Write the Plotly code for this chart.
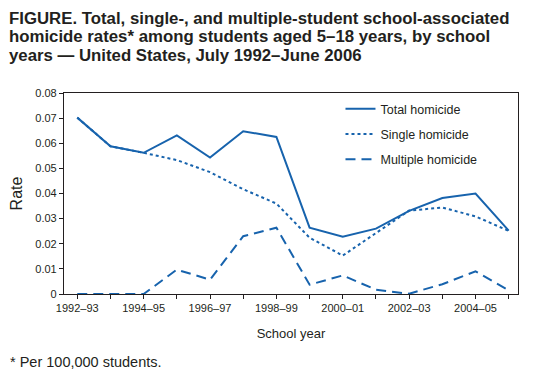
import plotly.graph_objects as go

school_years = ["1992–93", "1993–94", "1994–95", "1995–96", "1996–97", "1997–98", "1998–99",
                "1999–00", "2000–01", "2001–02", "2002–03", "2003–04", "2004–05", "2005–06"]
tick_labels = ["1992–93", "", "1994–95", "", "1996–97", "", "1998–99",
               "", "2000–01", "", "2002–03", "", "2004–05", ""]
total_homicide = [0.0702, 0.0588, 0.0562, 0.0631, 0.0543, 0.0648, 0.0625,
                  0.0264, 0.0228, 0.0260, 0.0331, 0.0382, 0.0400, 0.0252]
single_homicide = [0.0702, 0.0588, 0.0562, 0.0533, 0.0485, 0.0417, 0.0360,
                   0.0224, 0.0153, 0.0243, 0.0332, 0.0344, 0.0309, 0.0251]
multiple_homicide = [0.0, 0.0, 0.0, 0.0097, 0.0057, 0.0230, 0.0264,
                     0.0037, 0.0074, 0.0017, 0.0001, 0.0039, 0.0090, 0.0015]
y_ticks = [0, 0.01, 0.02, 0.03, 0.04, 0.05, 0.06, 0.07, 0.08]
y_tick_labels = ["0", "0.01", "0.02", "0.03", "0.04", "0.05", "0.06", "0.07", "0.08"]
title_lines = ["FIGURE. Total, single-, and multiple-student school-associated",
               "homicide rates* among students aged 5–18 years, by school",
               "years — United States, July 1992–June 2006"]
footnote = "* Per 100,000 students."

BLUE = "#1763ad"
INK = "#231f20"
FONT = "Liberation Sans, Arial, sans-serif"

fig = go.Figure()
for name, vals, dash, grp in [("Total homicide", total_homicide, "solid", "a"),
                              ("Single homicide", single_homicide, "dot", "b"),
                              ("Multiple homicide", multiple_homicide, "10px,6px", "c")]:
    fig.add_trace(go.Scatter(x=school_years, y=vals, mode="lines", name=name,
                             legendgroup=grp,
                             line=dict(color=BLUE, width=2, dash=dash)))

# plot area: x 64..518, y 93..294 (px)
def py(px):
    return (294 - px) / 201.0

def pxx(px):
    return (px - 64) / 454.0

annotations = []
for i, line in enumerate(title_lines):
    annotations.append(dict(text=line, xref="paper", yref="paper",
                            x=pxx(7), y=py(18.5 + i * 18.5), xanchor="left", yanchor="middle",
                            showarrow=False,
                            font=dict(size=16.8, family=FONT, color=INK, weight="bold")))
annotations.append(dict(text=footnote, xref="paper", yref="paper",
                        x=pxx(8), y=py(362), xanchor="left", yanchor="middle",
                        showarrow=False, font=dict(size=14.5, family=FONT, color=INK)))

fig.update_layout(
    width=541, height=376,
    margin=dict(l=64, r=23, t=93, b=82),
    paper_bgcolor="white", plot_bgcolor="white",
    font=dict(family=FONT, color=INK),
    showlegend=True,
    legend=dict(x=0.609, y=0.995, xanchor="left", yanchor="top",
                font=dict(size=12.5, family=FONT, color=INK),
                bgcolor="rgba(0,0,0,0)", tracegroupgap=6, itemwidth=30),
    xaxis=dict(type="category", categoryorder="array", categoryarray=school_years,
               range=[-0.40, 13.28], tickmode="array", tickvals=school_years,
               ticktext=tick_labels, ticks="outside", ticklen=4, tickwidth=1,
               tickcolor=INK, showline=True, linecolor=INK, linewidth=1.2,
               mirror=True, showgrid=False, zeroline=False,
               tickfont=dict(size=11, family=FONT, color=INK),
               title=dict(text="School year", font=dict(size=13, family=FONT, color=INK),
                          standoff=15)),
    yaxis=dict(range=[0, 0.08], tickmode="array", tickvals=y_ticks, ticktext=y_tick_labels,
               ticks="outside", ticklen=4, tickwidth=1, tickcolor=INK,
               showline=True, linecolor=INK, linewidth=1.2, mirror=True,
               showgrid=False, zeroline=False,
               tickfont=dict(size=11, family=FONT, color=INK),
               title=dict(text="Rate", font=dict(size=16, family=FONT, color=INK),
                          standoff=8)),
    annotations=annotations,
)

fig.write_html("out.html", config={"displayModeBar": False},
               post_script="document.body.style.margin='0';")
